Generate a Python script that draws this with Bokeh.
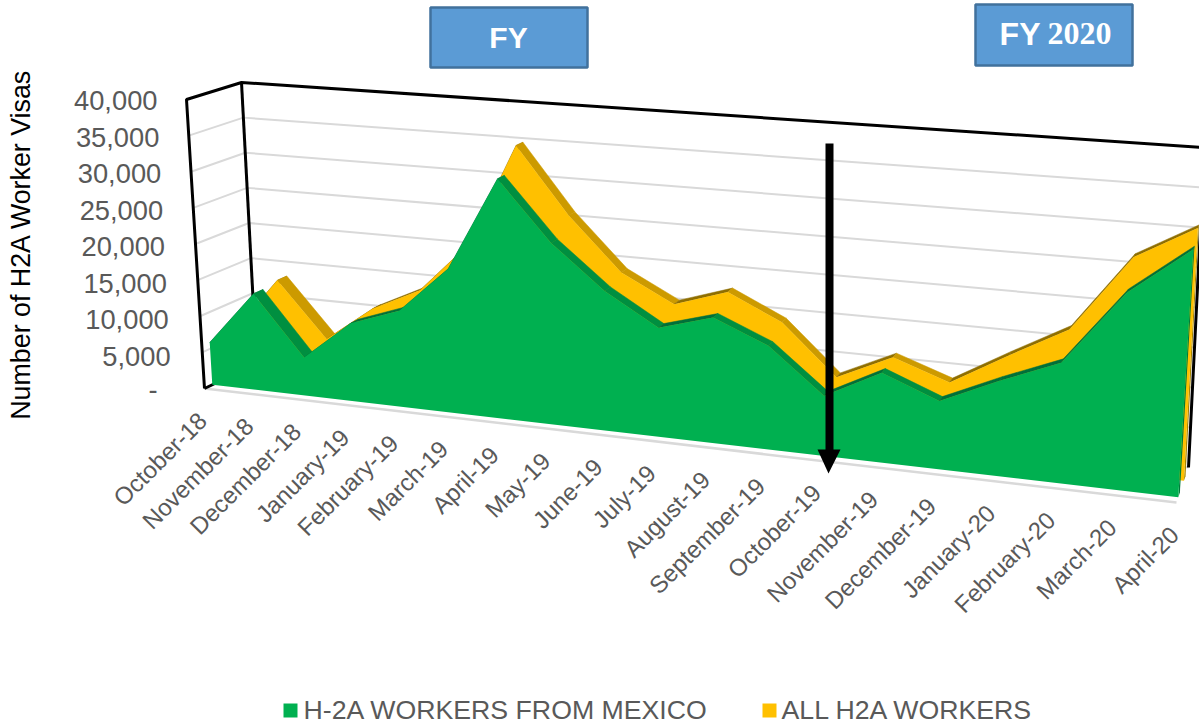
from bokeh.plotting import figure
from bokeh.embed import file_html
from bokeh.resources import INLINE
from bokeh.core.properties import value

months = ["October-18","November-18","December-18","January-19","February-19","March-19","April-19",
          "May-19","June-19","July-19","August-19","September-19","October-19","November-19",
          "December-19","January-20","February-20","March-20","April-20"]
mexico = [5870,13300,5220,10580,12980,19240,31820,23920,18250,14130,16130,13200,7600,11250,8490,11740,14690,23960,29800]
all_h2a = [6000,13690,6160,11020,14230,21000,35050,26180,19190,15640,17900,14620,8230,11520,9070,13210,17190,26850,31040]
ticks = [40000,35000,30000,25000,20000,15000,10000,5000,0]
tick_labels = ["40,000","35,000","30,000","25,000","20,000","15,000","10,000","5,000","-"]

# projection of the chart's 3D box on the page
F00, F01, F10, F11 = (204,388), (186,99), (1176,502), (1197,167)
B00, B01, B10, B11 = (256,363), (241,82), (1188,467), (1204,147)
K = 1.165
YMAX = 40000
N = len(months) - 1

def lerp(a, b, t):
    return (a[0]+(b[0]-a[0])*t, a[1]+(b[1]-a[1])*t)

def project(i, val, d):
    u = i / N
    s = u / (u + K*(1-u))
    v = val / YMAX
    front = lerp(lerp(F00, F10, s), lerp(F01, F11, s), v)
    back = lerp(lerp(B00, B10, s), lerp(B01, B11, s), v)
    return lerp(front, back, d)

p = figure(width=1199, height=725, x_range=(0,1199), y_range=(725,0), output_backend="svg",
           toolbar_location=None, min_border=0, x_axis_location=None, y_axis_location=None,
           outline_line_color=None)
p.grid.visible = False
p.styles = {"position":"absolute","left":"0px","top":"0px"}

GRID = "#D9D9D9"
for t in ticks:
    a, b, c = project(0,t,0), project(0,t,1), project(N,t,1)
    if t < YMAX:
        p.line([a[0],b[0],c[0]], [a[1],b[1],c[1]], line_color=GRID, line_width=2)
a, b = project(0,0,0), project(N,0,0)
p.line([a[0],b[0]], [a[1],b[1]], line_color=GRID, line_width=2.5)

# black frame
pts = [project(0,0,0), project(0,YMAX,0), project(0,YMAX,1), project(N,YMAX,1), project(N,0,1)]
p.line([q[0] for q in pts], [q[1] for q in pts], line_color="black", line_width=3)
a, b = project(0,YMAX,1), project(0,0,1)
p.line([a[0],b[0]], [a[1],b[1]], line_color="black", line_width=3)
a, b = project(0,0,0), project(0,0,1)
p.line([a[0],b[0]], [a[1],b[1]], line_color="black", line_width=3)

def series(vals, d0, d1, face, fall, rise, side):
    # the top face narrows slightly towards the right
    dback = lambda i: d0 + (d1-d0)*(1-0.3*i/N)
    q = [project(N,0,d0), project(N,vals[N],d0), project(N,vals[N],dback(N)), project(N,0,dback(N))]
    p.patch([c[0] for c in q], [c[1] for c in q], fill_color=side, line_color=None)
    xs, ys, cols = [], [], []
    for i in range(N):
        q = [project(i,vals[i],d0), project(i+1,vals[i+1],d0), project(i+1,vals[i+1],dback(i+1)), project(i,vals[i],dback(i))]
        xs.append([c[0] for c in q]); ys.append([c[1] for c in q])
        cols.append(fall if q[1][1] > q[0][1] else rise)
    p.patches(xs, ys, fill_color=cols, line_color=cols, line_width=0.5)
    q = [project(0,0,d0)] + [project(i,vals[i],d0) for i in range(N+1)] + [project(N,0,d0)]
    p.patch([c[0] for c in q], [c[1] for c in q], fill_color=face, line_color=None)

series(all_h2a, 0.62, 0.81, "#FFC000", "#CC9A00", "#8F6E00", "#A88600")
series(mexico, 0.15, 0.34, "#00B050", "#008F40", "#00703A", "#007A38")

# arrow
p.quad(left=[825], right=[833], top=[143], bottom=[452], fill_color="black", line_color=None)
p.patch([817,840,828], [449,449,473], fill_color="black", line_color=None)

# FY boxes
p.quad(left=[430,975], right=[587,1132], top=[7,4], bottom=[67,65], fill_color="#5B9BD5",
       line_color="#41719C", line_width=2.5)
SANS = value("Liberation Sans")
SERIF = value("Liberation Serif")
p.text([508], [37], text=["FY"], text_font=SANS, text_font_style="bold", text_font_size="30px",
       text_color="white", text_align="center", text_baseline="middle")
p.text([1040], [33], text=["FY"], text_font=SANS, text_font_style="bold", text_font_size="32px",
       text_color="white", text_align="right", text_baseline="middle")
p.text([1047], [33], text=["2020"], text_font=SERIF, text_font_style="bold", text_font_size="32px",
       text_color="white", text_align="left", text_baseline="middle")

# value tick labels
for t, lab in zip(ticks, tick_labels):
    x, y = project(0,t,0)
    shift = 47 if lab == "-" else 29 + 3*(1-t/YMAX)
    p.text([x-shift], [y+1+3*(1-t/YMAX)-(3 if lab=="-" else 0)], text=[lab], text_font=SANS,
           text_font_size="27.3px", text_color="#595959", text_align="right", text_baseline="middle")

# month labels
for i, m in enumerate(months):
    x, y = project(i,0,0)
    p.text([x-2], [y+28], text=[m], text_font=SANS, text_font_size="24px", text_color="#595959",
           angle=45, angle_units="deg", text_align="right", text_baseline="middle")

p.text([20], [244], text=["Number of H2A Worker Visas"], text_font=SANS, text_font_size="26.8px",
       text_color="black", angle=90, angle_units="deg", text_align="center", text_baseline="middle")

# legend
p.quad(left=[283,762], right=[297,776], top=[703,703], bottom=[717,717], fill_color=["#00B050","#FFC000"], line_color=None)
p.text([303,781], [709,709], text=["H-2A WORKERS FROM MEXICO","ALL H2A WORKERS"], text_font=SANS,
       text_font_size="26.7px", text_color="#595959", text_align="left", text_baseline="middle")

open("out.html","w").write(file_html(p, INLINE))
